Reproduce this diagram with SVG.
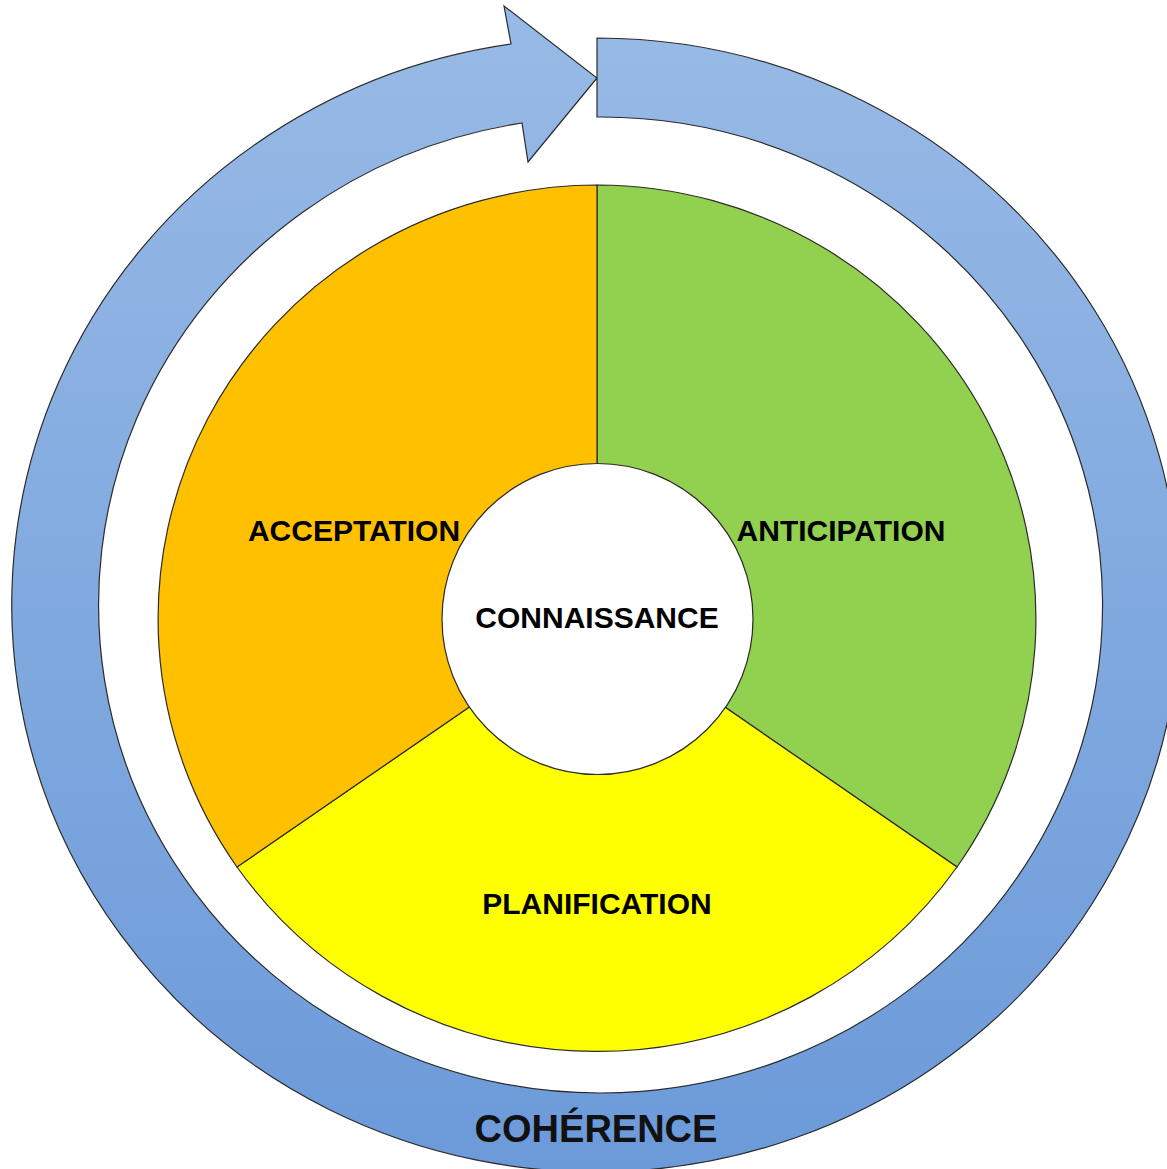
<svg xmlns="http://www.w3.org/2000/svg" width="1167" height="1169" viewBox="0 0 1167 1169">
  <defs>
    <linearGradient id="ringGrad" x1="0" y1="0" x2="0" y2="1">
      <stop offset="0" stop-color="#98BAE6"/>
      <stop offset="1" stop-color="#6C9AD9"/>
    </linearGradient>
    <style>
      .edge { stroke: #2b2b2b; stroke-width: 1.2; stroke-linejoin: miter; }
      .lbl { font-family: "Liberation Sans", Arial, sans-serif; font-weight: bold; font-size: 30px; fill: #000; text-anchor: middle; }
      .big { font-size: 38px; fill: #111; }
    </style>
  </defs>
  <rect width="1167" height="1169" fill="#ffffff"/>

  <g id="coherence">
    <path class="edge" fill="url(#ringGrad)" d="M597,38 A584,567 0 1 1 511,44 L504,6 L597,78 L528,162 L522,123 A502,488 0 1 0 597,117 Z"/>
    <text class="lbl big" x="596" y="1142">COHÉRENCE</text>
  </g>

  <g id="anticipation">
    <path class="edge" fill="#92D050" d="M597,619 L597,185 A440,434 0 0 1 957,867 Z"/>
    <text class="lbl" x="841" y="541">ANTICIPATION</text>
  </g>

  <g id="planification">
    <path class="edge" fill="#FFFF00" d="M597,619 L957,867 A440,434 0 0 1 237,867 Z"/>
    <text class="lbl" x="597" y="914">PLANIFICATION</text>
  </g>

  <g id="acceptation">
    <path class="edge" fill="#FFC000" d="M597,619 L237,867 A440,434 0 0 1 597,185 Z"/>
    <text class="lbl" x="354" y="541">ACCEPTATION</text>
  </g>

  <g id="connaissance">
    <circle class="edge" cx="597.5" cy="619" r="155.5" fill="#ffffff"/>
    <text class="lbl" x="597" y="628">CONNAISSANCE</text>
  </g>

  <g id="connectors"></g>
</svg>
